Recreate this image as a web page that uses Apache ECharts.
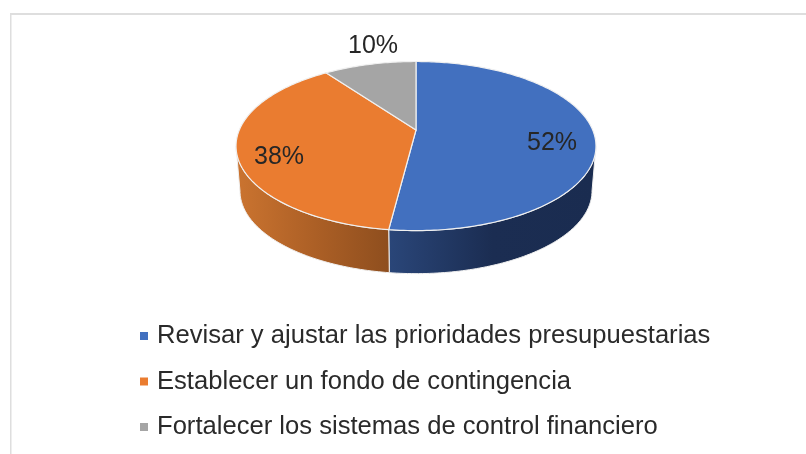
<!DOCTYPE html>
<html>
<head>
<meta charset="utf-8">
<style>
  html, body { margin: 0; padding: 0; background: #fff; }
  #chart { width: 806px; height: 454px; }
</style>
<script src="https://cdn.jsdelivr.net/npm/echarts@6/dist/echarts.min.js"></script>
</head>
<body>
<div id="chart"></div>
<script>
const categories = [
  'Revisar y ajustar las prioridades presupuestarias',
  'Establecer un fondo de contingencia',
  'Fortalecer los sistemas de control financiero'
];
const values = [52, 38, 10];
const colors = ['#4270bf', '#ea7c30', '#a5a5a5'];
const wallColors = [
  ['#2a4679', '#1b2d52', '#1a2c50'],
  ['#cb7430', '#ad6026', '#8e4e1e']
];
const labelPos = [[552, 143], [279, 157], [373, 46]];

// perspectiva del disco: centro, radios y fuga
const cx = 416, cy = 130, rx = 176.7, ry = 81.5, k = 0.19;
const wallScale = 0.978, wallVanish = 2186;
const wallFrom = 101, wallTo = 259;
const total = values.reduce((a, b) => a + b, 0);

function topPoint(deg) {
  let t = deg * Math.PI / 180;
  let w = 1 + k * Math.cos(t);
  return [cx + rx * Math.sin(t) / w, cy - ry * Math.cos(t) / w];
}

function bottomPoint(deg) {
  let p = topPoint(deg);
  return [cx + wallScale * (p[0] - cx), wallVanish + wallScale * (p[1] - wallVanish)];
}

function arc(from, to, fn) {
  let pts = [];
  let steps = Math.max(2, Math.ceil(to - from));
  for (let i = 0; i <= steps; i++) {
    pts.push(fn(from + (to - from) * i / steps));
  }
  return pts;
}

function renderSlice(index) {
  return function (params, api) {
    let before = values.slice(0, index).reduce((a, b) => a + b, 0);
    let start = before / total * 360;
    let end = start + api.value(0) / total * 360;
    let children = [];

    // pared lateral, solo la parte visible
    let a = Math.max(start, wallFrom), b = Math.min(end, wallTo);
    if (a < b) {
      let pts = arc(a, b, topPoint).concat(arc(a, b, bottomPoint).reverse());
      let c = wallColors[index];
      children.push({
        type: 'polygon',
        z2: 1,
        shape: { points: pts },
        style: {
          fill: {
            type: 'linear', x: 0, y: 0, x2: 1, y2: 0,
            colorStops: [
              { offset: 0, color: c[0] },
              { offset: 0.5, color: c[1] },
              { offset: 1, color: c[2] }
            ]
          },
          stroke: '#f0f0f0',
          lineWidth: 1
        }
      });
    }

    // cara superior
    children.push({
      type: 'polygon',
      z2: 2,
      shape: { points: [[cx, cy]].concat(arc(start, end, topPoint)) },
      style: { fill: colors[index], stroke: '#f0f0f0', lineWidth: 1.2 }
    });

    children.push({
      type: 'text',
      z2: 3,
      x: labelPos[index][0],
      y: labelPos[index][1],
      style: {
        text: api.value(0) + '%',
        fill: '#262626',
        font: '25px "Liberation Sans"',
        align: 'center',
        verticalAlign: 'middle'
      }
    });
    return { type: 'group', children: children };
  };
}

let myChart = echarts.init(document.getElementById('chart'), null, { renderer: 'canvas' });
myChart.setOption({
  animation: false,
  backgroundColor: '#fff',
  tooltip: { show: false },
  legend: {
    orient: 'vertical',
    left: 140,
    top: 323,
    itemWidth: 8,
    itemHeight: 8,
    itemGap: 19.5,
    icon: 'rect',
    selectedMode: false,
    padding: 0,
    textStyle: {
      fontFamily: 'Liberation Sans',
      fontSize: 25.6,
      color: '#2a2a2a',
      lineHeight: 26,
      padding: [0, 0, 0, 4]
    },
    data: categories
  },
  graphic: [
    { type: 'rect', silent: true, shape: { x: 10, y: 13, width: 796, height: 2 }, style: { fill: '#dedede' } },
    { type: 'rect', silent: true, shape: { x: 10, y: 13, width: 1.5, height: 441 }, style: { fill: '#dedede' } }
  ],
  series: categories.map((name, i) => ({
    type: 'custom',
    name: name,
    coordinateSystem: 'none',
    silent: true,
    itemStyle: { color: colors[i] },
    renderItem: renderSlice(i),
    data: [[values[i]]]
  }))
});
</script>
</body>
</html>
